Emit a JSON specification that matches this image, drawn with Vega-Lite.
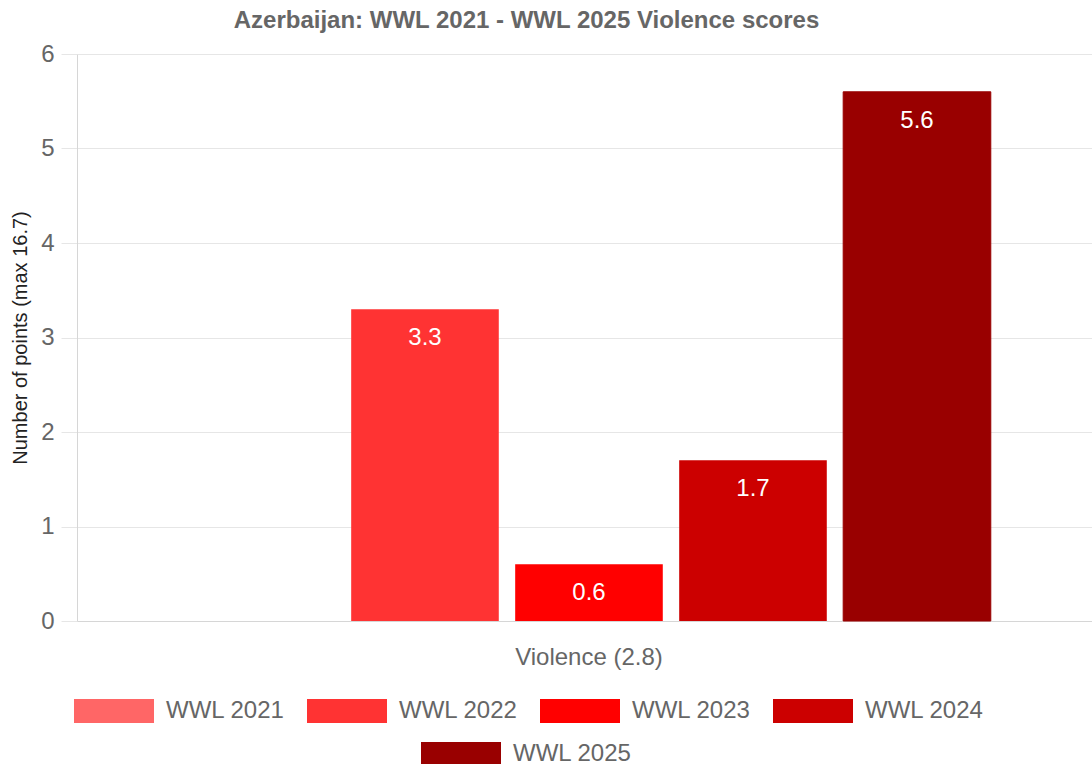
{
  "$schema": "https://vega.github.io/schema/vega-lite/v6.json",
  "width": 1015,
  "height": 567,
  "autosize": {"type": "none"},
  "padding": {"left": 77, "top": 54, "right": 0, "bottom": 143},
  "background": "white",
  "title": {
    "text": "Azerbaijan: WWL 2021 - WWL 2025 Violence scores",
    "font": "Liberation Sans",
    "fontSize": 24,
    "fontWeight": "bold",
    "color": "#666666",
    "dx": -58,
    "offset": 9
  },
  "data": {
    "values": [
      {"category": "Violence (2.8)", "year": "WWL 2021", "value": 0},
      {"category": "Violence (2.8)", "year": "WWL 2022", "value": 3.3},
      {"category": "Violence (2.8)", "year": "WWL 2023", "value": 0.6},
      {"category": "Violence (2.8)", "year": "WWL 2024", "value": 1.7},
      {"category": "Violence (2.8)", "year": "WWL 2025", "value": 5.6}
    ]
  },
  "encoding": {
    "x": {
      "field": "category",
      "type": "nominal",
      "scale": {"paddingInner": 0, "paddingOuter": 0.1189, "align": 0.523},
      "axis": {
        "title": null,
        "ticks": false,
        "labelAngle": 0,
        "labelFont": "Liberation Sans",
        "labelFontSize": 24,
        "labelColor": "#666666",
        "labelPadding": 24,
        "domainColor": "#d6d6d6",
        "grid": false
      }
    },
    "xOffset": {
      "field": "year",
      "type": "nominal",
      "scale": {"paddingInner": 0.1, "paddingOuter": 0.05}
    },
    "y": {
      "field": "value",
      "type": "quantitative",
      "scale": {"domain": [0, 6], "nice": false},
      "axis": {
        "title": "Number of points (max 16.7)",
        "values": [0, 1, 2, 3, 4, 5, 6],
        "format": "d",
        "tickSize": 16,
        "tickColor": "#e6e6e6",
        "labelPadding": 7,
        "labelFont": "Liberation Sans",
        "labelFontSize": 24,
        "labelColor": "#666666",
        "gridColor": "#e6e6e6",
        "domainColor": "#d6d6d6",
        "titleFont": "Liberation Sans",
        "titleFontSize": 20,
        "titleFontWeight": "normal",
        "titleColor": "#222222",
        "titlePadding": 10
      }
    }
  },
  "layer": [
    {
      "mark": {"type": "bar"},
      "encoding": {
        "fill": {
          "field": "year",
          "type": "nominal",
          "scale": {
            "domain": ["WWL 2021", "WWL 2022", "WWL 2023", "WWL 2024", "WWL 2025"],
            "range": ["#ff6666", "#ff3333", "#ff0000", "#cc0000", "#990000"]
          },
          "legend": {
            "values": ["WWL 2021", "WWL 2022", "WWL 2023", "WWL 2024"],
            "orient": "none",
            "legendX": -3,
            "legendY": 617,
            "direction": "horizontal",
            "columns": 4,
            "title": null
          }
        },
        "stroke": {
          "field": "year",
          "type": "nominal",
          "scale": {"domain": ["WWL 2025"], "range": ["#990000"]},
          "legend": {
            "orient": "none",
            "legendX": 344,
            "legendY": 660,
            "direction": "horizontal",
            "title": null,
            "symbolFillColor": "#990000",
            "symbolStrokeColor": "#990000"
          }
        }
      }
    },
    {
      "transform": [{"filter": "datum.value > 0"}],
      "mark": {
        "type": "text",
        "font": "Liberation Sans",
        "fontSize": 24,
        "color": "white",
        "baseline": "middle",
        "dy": 29
      },
      "encoding": {
        "text": {"field": "value", "type": "quantitative", "format": ".1f"}
      }
    }
  ],
  "config": {
    "view": {"stroke": null},
    "legend": {
      "symbolType": "M-1,-0.3H1V0.3H-1Z",
      "symbolSize": 6400,
      "symbolStrokeWidth": 0,
      "labelFont": "Liberation Sans",
      "labelFontSize": 24,
      "labelColor": "#666666",
      "labelOffset": 12,
      "columnPadding": 22,
      "rowPadding": 0,
      "padding": 0
    }
  }
}
